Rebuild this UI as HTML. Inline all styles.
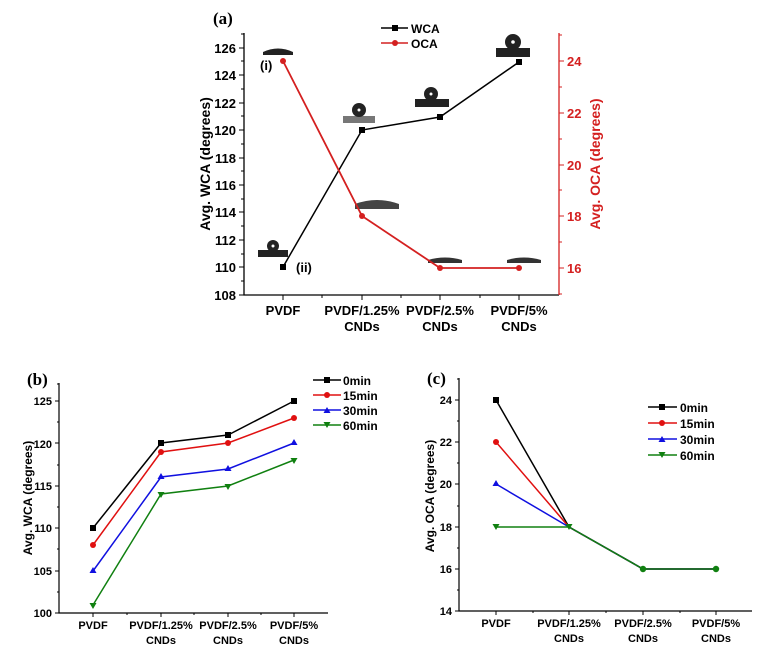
<!DOCTYPE html>
<html><head><meta charset="utf-8"><style>
body{margin:0;background:#fff}
text{font-family:"Liberation Sans",Arial,sans-serif;font-weight:bold}
</style></head><body>
<svg width="771" height="653" viewBox="0 0 771 653" xmlns="http://www.w3.org/2000/svg">
<defs>
<g id="sq"><rect x="-3" y="-3" width="6" height="6"/></g>
</defs>
<!-- Chart (a) -->
<text x="213" y="24" font-size="17" style="font-family:'Liberation Serif',serif">(a)</text>
<path d="M244 33V295H559" stroke="#000" stroke-width="1.3" fill="none"/>
<path d="M559 33V295" stroke="#d42020" stroke-width="1.3"/>
<g stroke="#000" stroke-width="1">
<path d="M244 48h-5M244 75h-5M244 103h-5M244 130h-5M244 158h-5M244 185h-5M244 212h-5M244 240h-5M244 267h-5M244 295h-5"/>
<path d="M244 61h-3M244 89h-3M244 116h-3M244 144h-3M244 171h-3M244 199h-3M244 226h-3M244 254h-3M244 281h-3M244 34h-3"/>
<path d="M283 295v5M362 295v5M440 295v5M519 295v5M322 295v3M401 295v3M480 295v3"/>
</g>
<g stroke="#d42020" stroke-width="1">
<path d="M559 61h5M559 113h5M559 165h5M559 216h5M559 268h5M559 35h3M559 87h3M559 139h3M559 190h3M559 242h3M559 294h3"/>
</g>
<g font-size="13" text-anchor="end">
<text x="236" y="53">126</text><text x="236" y="80">124</text><text x="236" y="108">122</text><text x="236" y="135">120</text><text x="236" y="163">118</text><text x="236" y="190">116</text><text x="236" y="217">114</text><text x="236" y="245">112</text><text x="236" y="272">110</text><text x="236" y="300">108</text>
</g>
<g font-size="13" fill="#d42020">
<text x="567" y="66">24</text><text x="567" y="118">22</text><text x="567" y="170">20</text><text x="567" y="221">18</text><text x="567" y="273">16</text>
</g>
<text transform="translate(210,164) rotate(-90)" font-size="14" text-anchor="middle">Avg. WCA (degrees)</text>
<text transform="translate(600,164) rotate(-90)" font-size="14" text-anchor="middle" fill="#d42020">Avg. OCA (degrees)</text>
<g font-size="13" text-anchor="middle">
<text x="283" y="315">PVDF</text>
<text x="362" y="315">PVDF/1.25%</text><text x="362" y="331">CNDs</text>
<text x="440" y="315">PVDF/2.5%</text><text x="440" y="331">CNDs</text>
<text x="519" y="315">PVDF/5%</text><text x="519" y="331">CNDs</text>
</g>
<!-- droplets -->
<g fill="#222">
<path d="M263 55h30v-3q-15-7-30 0z"/>
<rect x="258" y="250" width="30" height="7"/><circle cx="273" cy="246" r="6"/>
<rect x="343" y="116" width="32" height="7" fill="#777"/><circle cx="359" cy="110" r="7"/>
<path d="M355 209h44v-5q-22-8-44 0z" fill="#444"/>
<rect x="415" y="99" width="34" height="8"/><circle cx="431" cy="94" r="7"/>
<path d="M428 263h34v-3q-17-5-34 0z" fill="#333"/>
<rect x="496" y="48" width="34" height="9"/><circle cx="513" cy="42" r="8"/>
<path d="M507 263h34v-3q-17-5-34 0z" fill="#333"/>
</g>
<g fill="#fff"><circle cx="273" cy="246" r="1.5"/><circle cx="359" cy="110" r="1.5"/><circle cx="431" cy="94" r="1.5"/><circle cx="513" cy="42" r="1.8"/></g>
<text x="260" y="70" font-size="13">(i)</text>
<text x="296" y="272" font-size="13">(ii)</text>
<polyline points="283,267 362,130 440,117 519,62" fill="none" stroke="#000" stroke-width="1.5"/>
<g fill="#000"><use href="#sq" x="283" y="267"/><use href="#sq" x="362" y="130"/><use href="#sq" x="440" y="117"/><use href="#sq" x="519" y="62"/></g>
<polyline points="283,61 362,216 440,268 519,268" fill="none" stroke="#d42020" stroke-width="1.8"/>
<g fill="#d42020"><circle cx="283" cy="61" r="3"/><circle cx="362" cy="216" r="3"/><circle cx="440" cy="268" r="3"/><circle cx="519" cy="268" r="3"/></g>
<path d="M381 28h27" stroke="#000" stroke-width="1.5"/><use href="#sq" x="395" y="28"/>
<text x="411" y="33" font-size="12">WCA</text>
<path d="M381 43h27" stroke="#d42020" stroke-width="1.5"/><circle cx="395" cy="43" r="3" fill="#d42020"/>
<text x="411" y="48" font-size="12">OCA</text>

<!-- Chart (b) -->
<text x="27" y="385" font-size="17" style="font-family:'Liberation Serif',serif">(b)</text>
<path d="M59 383V613H328" fill="none" stroke="#000" stroke-width="1.2"/>
<g stroke="#000" stroke-width="1">
<path d="M59 401h-4M59 443h-4M59 486h-4M59 528h-4M59 571h-4M59 613h-4M59 422h-2M59 465h-2M59 507h-2M59 549h-2M59 592h-2M59 384h-2"/>
<path d="M93 613v4M161 613v4M228 613v4M294 613v4M127 613v2M194 613v2M261 613v2"/>
</g>
<g font-size="11" text-anchor="end">
<text x="52" y="405">125</text><text x="52" y="448">120</text><text x="52" y="490">115</text><text x="52" y="532">110</text><text x="52" y="575">105</text><text x="52" y="617">100</text>
</g>
<text transform="translate(32,498) rotate(-90)" font-size="12" text-anchor="middle">Avg. WCA (degrees)</text>
<g font-size="11" text-anchor="middle">
<text x="93" y="629">PVDF</text>
<text x="161" y="629">PVDF/1.25%</text><text x="161" y="644">CNDs</text>
<text x="228" y="629">PVDF/2.5%</text><text x="228" y="644">CNDs</text>
<text x="294" y="629">PVDF/5%</text><text x="294" y="644">CNDs</text>
</g>
<g fill="none" stroke-width="1.5">
<polyline points="93,528 161,443 228,435 294,401" stroke="#000"/>
<polyline points="93,545 161,452 228,443 294,418" stroke="#e01010"/>
<polyline points="93,571 161,477 228,469 294,443" stroke="#1010e0"/>
<polyline points="93,605 161,494 228,486 294,460" stroke="#108010"/>
</g>
<g fill="#000"><use href="#sq" x="93" y="528"/><use href="#sq" x="161" y="443"/><use href="#sq" x="228" y="435"/><use href="#sq" x="294" y="401"/></g>
<g fill="#e01010"><circle cx="93" cy="545" r="3"/><circle cx="161" cy="452" r="3"/><circle cx="228" cy="443" r="3"/><circle cx="294" cy="418" r="3"/></g>
<g fill="#1010e0"><path d="M93 567l3.5 6h-7z"/><path d="M161 473l3.5 6h-7z"/><path d="M228 465l3.5 6h-7z"/><path d="M294 439l3.5 6h-7z"/></g>
<g fill="#108010"><path d="M93 609l3.5-6h-7z"/><path d="M161 498l3.5-6h-7z"/><path d="M228 490l3.5-6h-7z"/><path d="M294 464l3.5-6h-7z"/></g>
<g stroke-width="1.5">
<path d="M313 380h28" stroke="#000"/><path d="M313 395h28" stroke="#e01010"/><path d="M313 410h28" stroke="#1010e0"/><path d="M313 425h28" stroke="#108010"/>
</g>
<use href="#sq" x="327" y="380"/><circle cx="327" cy="395" r="3" fill="#e01010"/><path d="M327 407l3.5 6h-7z" fill="#1010e0"/><path d="M327 428l3.5-6h-7z" fill="#108010"/>
<g font-size="12"><text x="343" y="385">0min</text><text x="343" y="400">15min</text><text x="343" y="415">30min</text><text x="343" y="430">60min</text></g>

<!-- Chart (c) -->
<text x="427" y="384" font-size="17" style="font-family:'Liberation Serif',serif">(c)</text>
<path d="M459 378V611H752" fill="none" stroke="#000" stroke-width="1.2"/>
<g stroke="#000" stroke-width="1">
<path d="M459 400h-4M459 442h-4M459 484h-4M459 527h-4M459 569h-4M459 611h-4M459 379h-2M459 421h-2M459 463h-2M459 506h-2M459 548h-2M459 590h-2"/>
<path d="M496 611v4M569 611v4M643 611v4M716 611v4M533 611v2M606 611v2M680 611v2"/>
</g>
<g font-size="11" text-anchor="end">
<text x="452" y="404">24</text><text x="452" y="446">22</text><text x="452" y="488">20</text><text x="452" y="531">18</text><text x="452" y="573">16</text><text x="452" y="615">14</text>
</g>
<text transform="translate(434,496) rotate(-90)" font-size="12" text-anchor="middle">Avg. OCA (degrees)</text>
<g font-size="11" text-anchor="middle">
<text x="496" y="627">PVDF</text>
<text x="569" y="627">PVDF/1.25%</text><text x="569" y="642">CNDs</text>
<text x="643" y="627">PVDF/2.5%</text><text x="643" y="642">CNDs</text>
<text x="716" y="627">PVDF/5%</text><text x="716" y="642">CNDs</text>
</g>
<g fill="none" stroke-width="1.5">
<polyline points="496,400 569,527 643,569 716,569" stroke="#000"/>
<polyline points="496,442 569,527 643,569 716,569" stroke="#e01010"/>
<polyline points="496,484 569,527 643,569 716,569" stroke="#1010e0"/>
<polyline points="496,527 569,527 643,569 716,569" stroke="#108010"/>
</g>
<use href="#sq" x="496" y="400"/><circle cx="496" cy="442" r="3" fill="#e01010"/><path d="M496 480l3.5 6h-7z" fill="#1010e0"/>
<g fill="#108010"><path d="M496 530l3.5-6h-7z"/><path d="M569 530l3.5-6h-7z"/><circle cx="643" cy="569" r="3.2"/><circle cx="716" cy="569" r="3.2"/></g>
<g stroke-width="1.5">
<path d="M648 407h29" stroke="#000"/><path d="M648 423h29" stroke="#e01010"/><path d="M648 439h29" stroke="#1010e0"/><path d="M648 455h29" stroke="#108010"/>
</g>
<use href="#sq" x="662" y="407"/><circle cx="662" cy="423" r="3" fill="#e01010"/><path d="M662 436l3.5 6h-7z" fill="#1010e0"/><path d="M662 458l3.5-6h-7z" fill="#108010"/>
<g font-size="12"><text x="680" y="412">0min</text><text x="680" y="428">15min</text><text x="680" y="444">30min</text><text x="680" y="460">60min</text></g>
</svg>
</body></html>
